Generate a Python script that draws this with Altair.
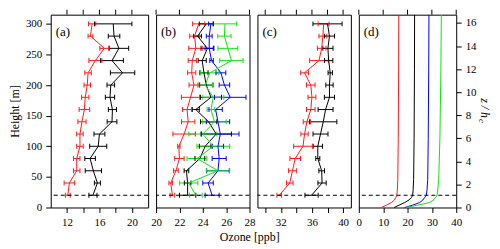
import altair as alt
import pandas as pd

FONT = "Liberation Serif, Times New Roman, DejaVu Serif, serif"

heights = [20, 40, 60, 80, 100, 120, 140, 160, 180, 200, 220, 240, 260, 280, 300]

a_red = [12.1, 12.3, 13.2, 13.2, 13.6, 13.6, 13.85, 14.15, 14.25, 14.5, 14.6, 15.5, 16.6, 14.9, 15.1]
a_red_err = [0.3, 0.65, 0.4, 0.4, 0.4, 0.4, 0.5, 0.65, 0.45, 0.4, 0.4, 0.8, 0.55, 0.3, 0.45]
a_black = [15.2, 15.75, 15.25, 14.85, 15.85, 16.0, 17.55, 17.6, 17.3, 17.4, 18.85, 17.55, 18.4, 17.8, 17.7]
a_black_err = [0.5, 0.37, 1.0, 0.65, 1.05, 0.67, 0.6, 0.5, 0.57, 0.47, 1.5, 1.4, 1.2, 0.71, 2.3]

b_red = [21.4, 21.25, 21.7, 22.0, 21.95, 22.4, 22.75, 22.65, 22.95, 23.25, 23.05, 23.1, 23.4, 23.3, 23.65]
b_red_err = [0.2, 0.15, 0.2, 0.4, 0.1, 0.96, 0.57, 0.38, 0.78, 0.43, 0.35, 0.35, 0.6, 0.42, 0.52]
b_black = [22.7, 22.7, 22.6, 23.75, 24.2, 25.15, 24.5, 23.4, 24.7, 24.3, 24.1, 23.95, 24.4, 23.55, 24.3]
b_black_err = [0.7, 0.28, 0.2, 0.42, 0.5, 1.3, 0.7, 0.3, 0.9, 0.57, 0.35, 0.35, 0.55, 0.33, 0.6]
b_blue = [24.8, 24.45, 25.3, 25.4, 25.3, 25.5, 25.3, 25.1, 26.35, 25.85, 25.55, 24.75, 24.55, 24.55, 24.7]
b_blue_err = [0.6, 0.45, 0.97, 0.6, 0.48, 1.6, 1.0, 0.57, 1.35, 0.45, 0.42, 0.15, 0.35, 0.25, 0.2]
b_green = [23.4, 22.8, 25.3, 23.5, 24.9, 24.0, 25.0, 24.7, 24.9, 24.2, 24.6, 26.45, 26.15, 25.85, 25.9]
b_green_err = [0.55, 0.78, 1.0, 0.85, 1.4, 1.2, 1.0, 0.33, 0.9, 0.64, 0.78, 1.0, 0.85, 0.57, 1.0]

c_red = [31.8, 33.15, 33.5, 33.85, 34.85, 35.05, 35.35, 35.85, 36.0, 35.85, 35.05, 36.9, 37.25, 37.4, 37.5]
c_red_err = [0.3, 0.42, 0.5, 0.68, 1.2, 0.47, 0.47, 0.55, 0.5, 0.55, 0.5, 1.2, 0.55, 0.5, 0.7]
c_black = [35.95, 37.3, 37.25, 36.75, 36.75, 37.1, 37.45, 37.75, 38.25, 38.25, 38.35, 38.15, 38.05, 38.25, 38.0]
c_black_err = [0.85, 0.53, 0.36, 0.26, 0.6, 0.96, 1.75, 0.96, 0.65, 0.47, 0.28, 0.53, 0.65, 0.65, 1.87]

d_z = [0, 0.2, 0.43, 0.65, 0.86, 1.06, 1.5, 2.44, 6, 12, 16.7]
d_red = [9.3, 11.3, 13.4, 14.6, 15.2, 15.6, 15.8, 16.0, 16.2, 16.35, 16.4]
d_black = [14.5, 16.5, 18.8, 20.6, 21.6, 22.1, 22.3, 22.5, 22.7, 22.85, 22.9]
d_blue = [18.9, 22.0, 25.0, 26.3, 27.0, 27.7, 28.0, 28.3, 28.5, 28.7, 28.8]
d_green = [19.5, 24.0, 29.1, 30.6, 31.6, 32.1, 32.4, 32.8, 33.3, 33.7, 33.9]

ticks_a = [12, 14, 16, 18, 20]
ticks_b = [20, 22, 24, 26, 28]
ticks_c = [30, 32, 34, 36, 38, 40]
ticks_d = [0, 10, 20, 30, 40]

canopy_m = 20
canopy_z = 1.06
panel_labels = ["(a)", "(b)", "(c)", "(d)"]

COLORS = {"red": "#ff1a1a", "black": "#000000", "blue": "#0000ff", "green": "#12e012"}
color = alt.Color("series:N",
                  scale=alt.Scale(domain=list(COLORS), range=list(COLORS.values())),
                  legend=None)

H = 194
YMAX = 315


def make_df(series):
    rows = []
    for name, (vals, errs) in series.items():
        for h, v, e in zip(heights, vals, errs):
            rows.append(dict(series=name, h=h, v=v, lo=v - e, hi=v + e))
    return pd.DataFrame(rows)


def bottom_axis(ticks, every):
    return alt.Axis(orient="bottom", values=ticks, title=None, tickSize=5,
                    labelPadding=4, labelFlush=False, labelOverlap=False,
                    labelExpr=f"datum.value % {every} == 0 ? datum.label : ''")


def top_ticks(ticks, X):
    # mirrored tick marks along the upper frame, placed through the x scale
    return alt.Chart(pd.DataFrame({"t": ticks})).mark_rule(
        color="black", strokeWidth=1).encode(
        x=X("t:Q"), y=alt.value(-5), y2=alt.value(0))


def label_layer(txt):
    return alt.Chart(pd.DataFrame({"t": [txt]})).mark_text(
        font=FONT, fontSize=13, align="left", baseline="middle", color="black"
    ).encode(text="t:N", x=alt.value(5), y=alt.value(17))


def err_panel(df, xdom, ticks, every, label, width, yaxis):
    ys = alt.Scale(domain=[0, YMAX], nice=False, zero=False)
    bottom = bottom_axis(ticks, every)
    base = alt.Chart(df)
    Y = alt.Y("h:Q", scale=ys, axis=yaxis)

    def X(f):
        return alt.X(f, scale=alt.Scale(domain=xdom, nice=False, zero=False), axis=bottom)

    bars = base.mark_rule(strokeWidth=1).encode(
        x=X("lo:Q"), x2="hi:Q", y=Y, color=color)
    cap_lo = base.mark_tick(orient="vertical", size=5, thickness=1, opacity=1).encode(
        x=X("lo:Q"), y=Y, color=color)
    cap_hi = base.mark_tick(orient="vertical", size=5, thickness=1, opacity=1).encode(
        x=X("hi:Q"), y=Y, color=color)
    line = base.mark_line(strokeWidth=1).encode(
        x=X("v:Q"), y=Y, color=color, order="h:Q")
    hc = alt.Chart(pd.DataFrame({"h": [canopy_m]})).mark_rule(
        strokeDash=[4, 3], color="black", strokeWidth=1).encode(y=Y)
    return alt.layer(bars, cap_lo, cap_hi, line, hc, top_ticks(ticks, X),
                     label_layer(label)).properties(width=width, height=H)


yaxis_a = alt.Axis(orient="left", values=list(range(0, 301, 50)), title="Height [m]",
                   tickSize=5, labelPadding=4, titlePadding=4)

pa = err_panel(make_df({"red": (a_red, a_red_err), "black": (a_black, a_black_err)}),
               [10, 22], ticks_a, 4, panel_labels[0], 98, yaxis_a)
pb = err_panel(make_df({"red": (b_red, b_red_err), "black": (b_black, b_black_err),
                        "blue": (b_blue, b_blue_err), "green": (b_green, b_green_err)}),
               [20, 28], ticks_b, 2, panel_labels[1], 94, None)
pc = err_panel(make_df({"red": (c_red, c_red_err), "black": (c_black, c_black_err)}),
               [29, 41], ticks_c, 4, panel_labels[2], 94, None)

# panel (d)
rows = []
for name, vals in [("red", d_red), ("black", d_black), ("blue", d_blue), ("green", d_green)]:
    for z, v in zip(d_z, vals):
        rows.append(dict(series=name, z=z, v=v))
ddf = pd.DataFrame(rows)
ys_d = alt.Scale(domain=[0, 16.72], nice=False, zero=False)
bottom_d = bottom_axis(ticks_d, 10)
yaxis_d = alt.Axis(orient="right", values=list(range(0, 17, 2)), title=None,
                   tickSize=5, labelPadding=4)
YD = alt.Y("z:Q", scale=ys_d, axis=yaxis_d)


def XD(f):
    return alt.X(f, scale=alt.Scale(domain=[0, 40], nice=False, zero=False), axis=bottom_d)


dbase = alt.Chart(ddf)
d_lines = dbase.mark_line(strokeWidth=1).encode(
    x=XD("v:Q"), y=YD, color=color, order="z:Q")
d_hc = alt.Chart(pd.DataFrame({"z": [canopy_z]})).mark_rule(
    strokeDash=[4, 3], color="black", strokeWidth=1).encode(y=YD)
t1 = alt.Chart(pd.DataFrame({"t": ["z / h"]})).mark_text(
    font=FONT, fontSize=12, fontStyle="italic", angle=90, align="center",
    baseline="middle", color="black").encode(text="t:N", x=alt.value(127), y=alt.value(94))
t2 = alt.Chart(pd.DataFrame({"t": ["c"]})).mark_text(
    font=FONT, fontSize=9, fontStyle="italic", angle=90, align="center",
    baseline="middle", color="black").encode(text="t:N", x=alt.value(124), y=alt.value(107))
pd_ = alt.layer(d_lines, d_hc, top_ticks(ticks_d, XD), label_layer(panel_labels[3]),
                t1, t2).properties(width=98, height=H)

chart = alt.hconcat(pa, pb, pc, pd_, spacing=8, bounds="flush").properties(
    title=alt.TitleParams("Ozone [ppb]", orient="bottom", anchor="middle", offset=4),
    padding=0
).configure_view(stroke="black", strokeWidth=1).configure_axis(
    labelFont=FONT, titleFont=FONT, labelFontSize=11, titleFontSize=12,
    labelColor="black", titleColor="black", tickColor="black", domain=False,
    grid=False, titleFontWeight="normal"
).configure_title(font=FONT, fontSize=12, fontWeight="normal", color="black")

chart.save("out.html", embed_options={"renderer": "svg", "actions": False})
